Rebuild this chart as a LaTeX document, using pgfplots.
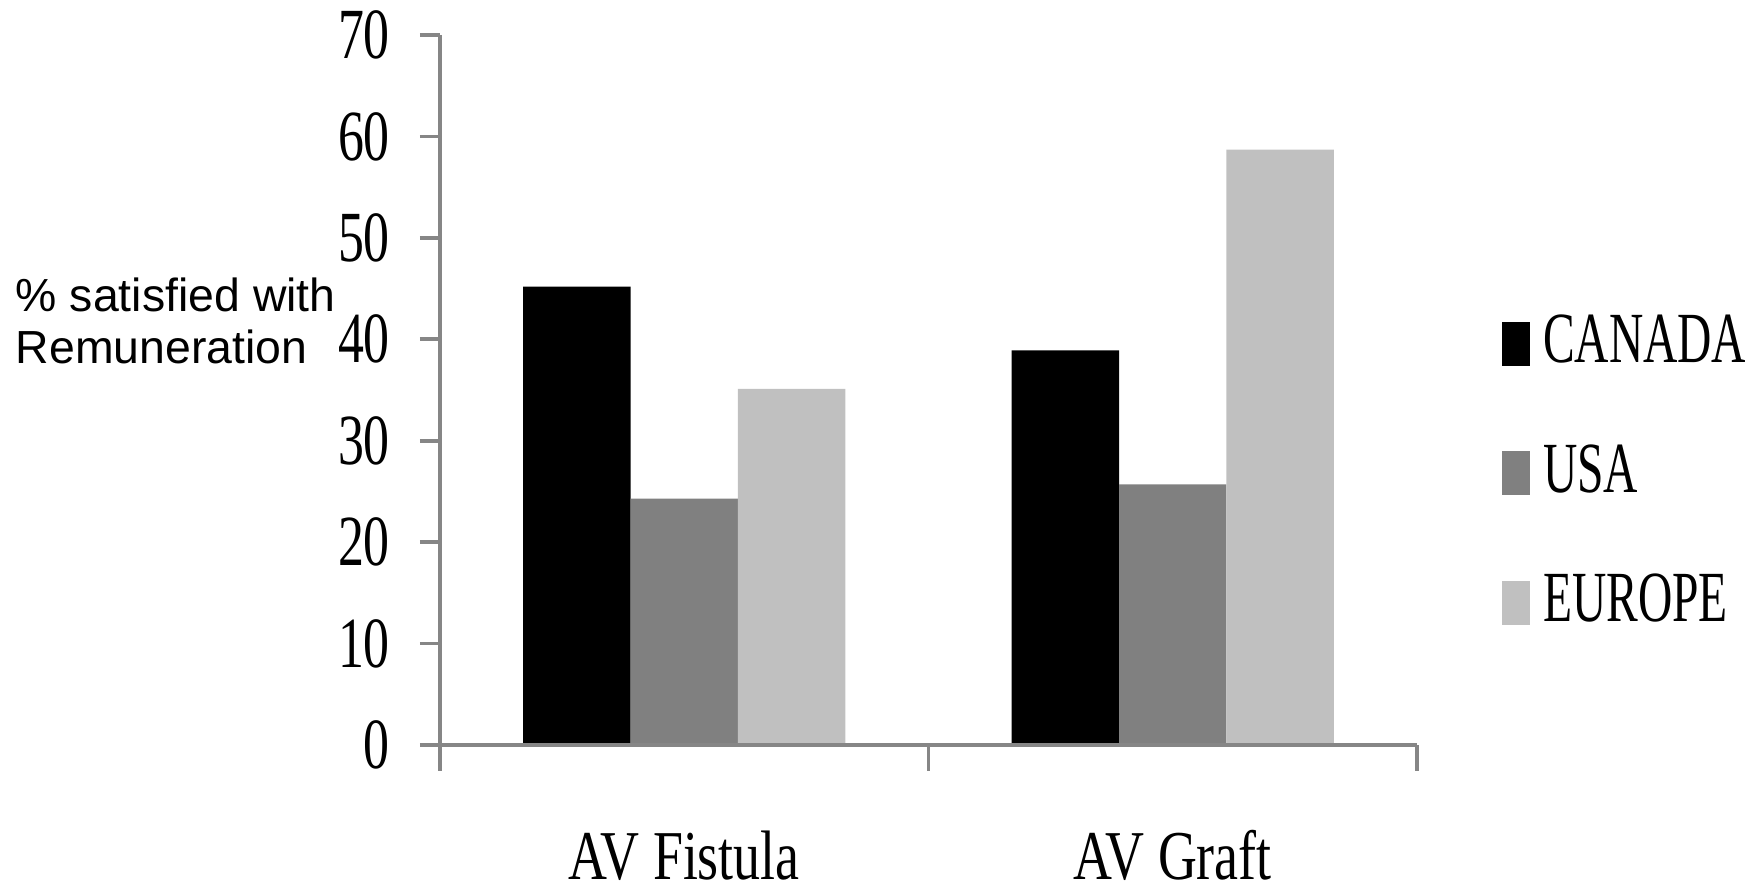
\documentclass[border=0pt]{standalone}
\usepackage{pgfplots}
\pgfplotsset{compat=1.18}
\usepackage{fontspec}
\setmainfont{Liberation Serif}
\newfontfamily\tickfont[FakeStretch=0.72]{Liberation Serif}
\newfontfamily\legfont[FakeStretch=0.66]{Liberation Serif}
\newfontfamily\catfont[FakeStretch=0.77]{Liberation Serif}
\newfontfamily\labfont{Liberation Sans}
\definecolor{axisgray}{HTML}{868686}
\definecolor{usagray}{HTML}{808080}
\definecolor{eugray}{HTML}{C0C0C0}
\begin{document}
\begin{tikzpicture}
\path[use as bounding box] (0,0) rectangle (438pt,221.25pt);
\begin{axis}[
  at={(110pt,35pt)}, anchor=south west,
  scale only axis, width=244.25pt, height=177.5pt,
  xmin=-0.5, xmax=1.5, ymin=0, ymax=70,
  axis x line*=bottom, axis y line*=left,
  axis line style={draw=axisgray, line width=0.9pt},
  axis on top=true,
  ytick={0,10,...,70},
  xtick={0,1}, xticklabels={AV Fistula, AV Graft},
  minor xtick={-0.5,0.5,1.5},
  tick align=outside, major tick length=5pt, minor tick length=6.5pt,
  tick style={draw=axisgray, line width=0.9pt},
  major x tick style={draw=none},
  ybar=0pt, bar width=0.22,
  /pgf/number format/assume math mode=true,
  yticklabel style={font=\tickfont\fontsize{18}{18}\selectfont, xshift=-4pt},
  xticklabel style={font=\catfont\fontsize{17.5}{17.5}\selectfont, anchor=base, inner sep=0pt, yshift=-28.75pt},
  ylabel={\% satisfied with\\Remuneration},
  ylabel style={font=\labfont\fontsize{11.6}{13}\selectfont, rotate=-90, align=left,
    at={(axis description cs:-0.435,0.537)}, anchor=base west, inner sep=0pt},
  legend style={draw=none, fill=none, at={(1.087,0.6057)}, anchor=north west,
    inner sep=0pt, outer sep=0pt, row sep=19pt,
    font=\legfont\fontsize{18}{18}\selectfont,
    nodes={inner sep=0pt},
    /tikz/every odd column/.append style={column sep=3.25pt}},
  legend cell align=left,
  legend image code/.code={\fill[#1] (0pt,-6pt) rectangle (7pt,5pt);},
]
\addplot[fill=black, draw=none] coordinates {(0,45.2) (1,38.9)};
\addplot[fill=usagray, draw=none] coordinates {(0,24.3) (1,25.7)};
\addplot[fill=eugray, draw=none] coordinates {(0,35.1) (1,58.7)};
\legend{CANADA, USA, EUROPE}
\end{axis}
\end{tikzpicture}
\end{document}
